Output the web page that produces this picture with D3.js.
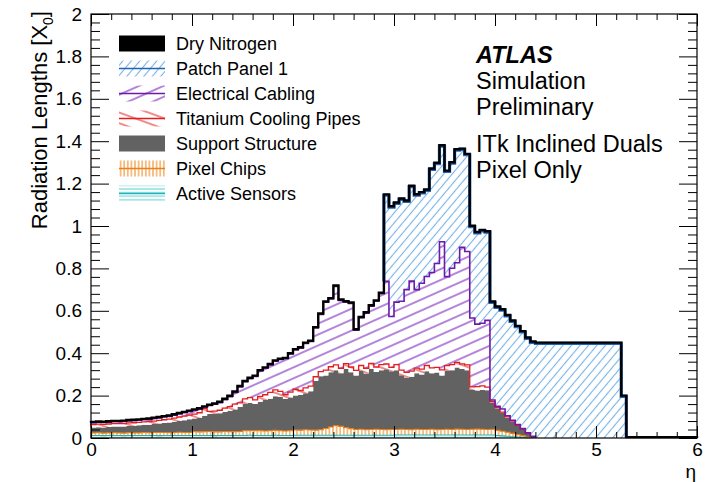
<!DOCTYPE html>
<html><head><meta charset="utf-8">
<script src="https://cdn.jsdelivr.net/npm/d3@7"></script>
<style>
body{margin:0;background:#fff}
svg{display:block}
text{font-family:"Liberation Sans",Arial,Helvetica,sans-serif;fill:#000}
</style>
</head><body>
<svg id="chart" width="708" height="482"></svg>
<script>
// ---------- data (bins of width 0.05 in eta, 0 .. 6) ----------
const binWidth = 0.05;
const etaRange = [0, 6];
const yRange = [0, 2];

const activeSensors = [
 0.012,0.012,0.011,0.012,0.012,0.012,0.011,0.012,0.012,0.012,0.012,0.012,0.012,0.011,0.012,0.012,0.012,0.012,0.012,0.012,
 0.012,0.012,0.012,0.012,0.011,0.012,0.012,0.012,0.012,0.012,0.012,0.013,0.012,0.012,0.012,0.012,0.013,0.012,0.012,0.012,
 0.013,0.013,0.013,0.013,0.013,0.013,0.013,0.013,0.013,0.013,0.013,0.013,0.013,0.013,0.013,0.013,0.013,0.013,0.013,0.013,
 0.014,0.014,0.014,0.014,0.014,0.014,0.014,0.014,0.014,0.014,0.014,0.014,0.014,0.014,0.014,0.014,0.014,0.014,0.014,0.014,
 0.012,0.010,0.008,0.006,0.004,0.003,0.001,0,0,0,0,0,0,0,0,0,0,0,0,0,
 0,0,0,0,0,0,0,0,0,0,0,0,0,0,0,0,0,0,0,0];

const pixelChips = [
 0.012,0.013,0.012,0.012,0.013,0.012,0.012,0.013,0.012,0.012,0.014,0.013,0.014,0.015,0.014,0.013,0.014,0.015,0.014,0.014,
 0.018,0.017,0.018,0.019,0.018,0.017,0.019,0.018,0.018,0.019,0.022,0.021,0.022,0.023,0.021,0.022,0.023,0.022,0.021,0.023,
 0.025,0.024,0.026,0.025,0.024,0.026,0.032,0.039,0.045,0.042,0.035,0.031,0.027,0.028,0.026,0.027,0.028,0.027,0.026,0.027,
 0.026,0.027,0.026,0.025,0.027,0.026,0.026,0.027,0.025,0.026,0.027,0.026,0.028,0.027,0.026,0.027,0.028,0.027,0.026,0.027,
 0.024,0.022,0.019,0.016,0.012,0.008,0.004,0,0,0,0,0,0,0,0,0,0,0,0,0,
 0,0,0,0,0,0,0,0,0,0,0,0,0,0,0,0,0,0,0,0];

const supportStructure = [
 0.026,0.026,0.027,0.028,0.029,0.030,0.031,0.032,0.034,0.036,0.036,0.038,0.040,0.042,0.045,0.048,0.051,0.054,0.058,0.062,
 0.062,0.067,0.075,0.082,0.085,0.088,0.092,0.098,0.105,0.115,0.126,0.131,0.126,0.136,0.146,0.151,0.161,0.161,0.151,0.156,
 0.162,0.167,0.172,0.182,0.232,0.252,0.250,0.258,0.262,0.250,0.277,0.266,0.255,0.275,0.265,0.285,0.270,0.280,0.285,0.275,
 0.280,0.255,0.245,0.250,0.265,0.260,0.275,0.265,0.270,0.255,0.275,0.280,0.290,0.285,0.280,0.185,0.182,0.185,0.185,0.125,
 0.104,0.086,0.069,0.055,0.042,0.028,0.015,0.005,0,0,0,0,0,0,0,0,0,0,0,0,
 0,0,0,0,0,0,0,0,0,0,0,0,0,0,0,0,0,0,0,0];

const titaniumPipes = [
 0.013,0.014,0.014,0.014,0.014,0.014,0.014,0.014,0.014,0.014,0.014,0.014,0.014,0.015,0.015,0.016,0.017,0.018,0.019,0.020,
 0.021,0.023,0.035,0.013,0.013,0.014,0.018,0.020,0.025,0.020,0.025,0.025,0.020,0.025,0.025,0.030,0.030,0.025,0.020,0.025,
 0.030,0.020,0.025,0.025,0.020,0.022,0.025,0.026,0.025,0.024,0.026,0.025,0.024,0.026,0.025,0.027,0.024,0.026,0.025,0.018,
 0.026,0.024,0.025,0.026,0.024,0.025,0.027,0.025,0.024,0.026,0.025,0.026,0.025,0.024,0.025,0.015,0.018,0.020,0.015,0.005,
 0.005,0.004,0.004,0.003,0.002,0.002,0.002,0.001,0,0,0,0,0,0,0,0,0,0,0,0,
 0,0,0,0,0,0,0,0,0,0,0,0,0,0,0,0,0,0,0,0];

const electricalCabling = [
 0.009,0.009,0.009,0.009,0.009,0.009,0.010,0.010,0.010,0.010,0.010,0.011,0.012,0.012,0.013,0.013,0.014,0.015,0.016,0.017,
 0.018,0.017,0.005,0.027,0.032,0.036,0.040,0.047,0.055,0.075,0.080,0.090,0.110,0.120,0.125,0.130,0.135,0.150,0.170,0.180,
 0.185,0.200,0.210,0.210,0.230,0.270,0.320,0.320,0.370,0.320,0.290,0.300,0.190,0.225,0.260,0.270,0.310,0.335,0.390,0.240,
 0.295,0.325,0.390,0.425,0.370,0.405,0.420,0.450,0.490,0.605,0.420,0.455,0.470,0.550,0.535,0.325,0.295,0.295,0.315,0.008,
 0.005,0.015,0.005,0.004,0.004,0.003,0.002,0.002,0,0,0,0,0,0,0,0,0,0,0,0,
 0,0,0,0,0,0,0,0,0,0,0,0,0,0,0,0,0,0,0,0];

const patchPanel1 = [
 0,0,0,0,0,0,0,0,0,0,0,0,0,0,0,0,0,0,0,0,
 0,0,0,0,0,0,0,0,0,0,0,0,0,0,0,0,0,0,0,0,
 0,0,0,0,0,0,0,0,0,0,0,0,0,0,0,0,0,0,0.406,0.516,
 0.466,0.481,0.416,0.446,0.446,0.426,0.406,0.486,0.471,0.451,0.496,0.496,0.531,0.461,0.456,0.431,0.431,0.436,0.416,0.461,
 0.466,0.466,0.471,0.466,0.461,0.456,0.446,0.443,0.446,0.446,0.446,0.446,0.446,0.446,0.446,0.446,0.446,0.446,0.446,0.446,
 0.446,0.446,0.446,0.446,0.446,0.196,0,0,0,0,0,0,0,0,0,0,0,0,0,0];

const dryNitrogen = [
 0.004,0.004,0.004,0.004,0.004,0.004,0.004,0.004,0.004,0.004,0.004,0.004,0.004,0.004,0.004,0.004,0.004,0.004,0.004,0.004,
 0.004,0.004,0.004,0.004,0.004,0.004,0.004,0.004,0.004,0.004,0.004,0.004,0.004,0.004,0.004,0.004,0.004,0.004,0.004,0.004,
 0.004,0.004,0.004,0.004,0.004,0.004,0.004,0.004,0.004,0.004,0.004,0.004,0.004,0.004,0.004,0.004,0.004,0.004,0.004,0.004,
 0.004,0.004,0.004,0.004,0.004,0.004,0.004,0.004,0.004,0.004,0.004,0.004,0.004,0.004,0.004,0.004,0.004,0.004,0.004,0.004,
 0.004,0.004,0.004,0.004,0.004,0.004,0.004,0.004,0.004,0.004,0.004,0.004,0.004,0.004,0.004,0.004,0.004,0.004,0.004,0.004,
 0.004,0.004,0.004,0.004,0.004,0.004,0.004,0.004,0.004,0.004,0.004,0.004,0.004,0.004,0.004,0.004,0.004,0.004,0.004,0.004];

const layerKeys   = ["sensors","chips","support","pipes","cabling","pp1","n2"];
const layerValues = [activeSensors, pixelChips, supportStructure, titaniumPipes, electricalCabling, patchPanel1, dryNitrogen];
const layerNames  = ["Active Sensors","Pixel Chips","Support Structure","Titanium Cooling Pipes","Electrical Cabling","Patch Panel 1","Dry Nitrogen"];
const legendOrder = ["n2","pp1","cabling","pipes","support","chips","sensors"];

const xTickValues = [0,1,2,3,4,5,6];
const xTickLabels = ["0","1","2","3","4","5","6"];
const yTickValues = [0,0.2,0.4,0.6,0.8,1,1.2,1.4,1.6,1.8,2];
const yTickLabels = ["0","0.2","0.4","0.6","0.8","1","1.2","1.4","1.6","1.8","2"];

const infoLines = ["Simulation","Preliminary"];
const detectorLines = ["ITk Inclined Duals","Pixel Only"];

// ---------- styles ----------
const style = {
  sensors: {fill:"url(#patSensors)", line:"#22b4b4", lw:1.1},
  chips:   {fill:"url(#patChips)",   line:"#ee7f15", lw:1.1},
  support: {fill:"#626262",          line:null,      lw:0},
  pipes:   {fill:"url(#patPipes)",   line:"#e41c1c", lw:1.3},
  cabling: {fill:"url(#patCabling)", line:"#6e1aa8", lw:1.6},
  pp1:     {fill:"url(#patPP1)",     line:"#1f64b8", lw:3.2},
  n2:      {fill:"#000",             line:"#000",    lw:2.4}
};

// ---------- layout ----------
const svg = d3.select("#chart");
const L = 91, R = 697, T = 14, B = 438;
const x = d3.scaleLinear().domain(etaRange).range([L, R]);
const y = d3.scaleLinear().domain(yRange).range([B, T]);

// patterns
const defs = svg.append("defs");
function linePattern(id, w, h, rot, color, sw, vertical) {
  const p = defs.append("pattern").attr("id", id).attr("patternUnits","userSpaceOnUse")
    .attr("width", w).attr("height", h).attr("patternTransform", `rotate(${rot})`);
  p.append("rect").attr("width", w).attr("height", h).attr("fill", "#fff");
  if (vertical) p.append("line").attr("x1", w/2).attr("x2", w/2).attr("y1", 0).attr("y2", h)
      .attr("stroke", color).attr("stroke-width", sw);
  else p.append("line").attr("x1", 0).attr("x2", w).attr("y1", h/2).attr("y2", h/2)
      .attr("stroke", color).attr("stroke-width", sw);
}
linePattern("patPP1", 6.5, 10, 40, "#78b2e6", 1.1, true);
linePattern("patCabling", 20, 10, -24, "#8232c4", 1.2, false);
linePattern("patPipes", 20, 10, 20, "#e23030", 1.1, false);
linePattern("patChips", 3.6, 10, 0, "#f2a04a", 1.3, true);
linePattern("patSensors", 10, 3.6, 0, "#6cd6d6", 1.1, false);

// data rows and stack
const nBins = activeSensors.length;
const rows = d3.range(nBins).map(i => {
  const r = {i};
  layerKeys.forEach((k, j) => r[k] = layerValues[j][i]);
  return r;
});
const series = d3.stack().keys(layerKeys)(rows);

const plot = svg.append("g");
const area = d3.area().x(d => x(d.x)).y0(d => y(d.lo)).y1(d => y(d.hi));

series.forEach(s => {
  const pts = [];
  s.forEach((d, i) => {
    pts.push({x: i*binWidth, lo: d[0], hi: d[1]});
    pts.push({x: (i+1)*binWidth, lo: d[0], hi: d[1]});
  });
  plot.append("path").attr("d", area(pts)).attr("fill", style[s.key].fill).attr("stroke", "none");
});

// outlines (drawn only where a layer is present)
function outline(s, comp) {
  const p = d3.path();
  let run = false;
  for (let i = 0; i < s.length; i++) {
    const xa = x(i*binWidth), xb = x((i+1)*binWidth);
    if (comp[i] > 0) {
      if (!run) { p.moveTo(xa, y(s[i][0])); p.lineTo(xa, y(s[i][1])); run = true; }
      else p.lineTo(xa, y(s[i][1]));
      p.lineTo(xb, y(s[i][1]));
    } else if (run) {
      p.lineTo(xa, y(s[i-1][0]));
      run = false;
    }
  }
  if (run) p.lineTo(x(s.length*binWidth), y(s[s.length-1][0]));
  return p.toString();
}
series.forEach((s, j) => {
  const st = style[s.key];
  if (!st.line) return;
  plot.append("path").attr("d", outline(s, layerValues[j]))
    .attr("fill", "none").attr("stroke", st.line).attr("stroke-width", st.lw)
    .attr("stroke-linejoin", "miter");
});

// ---------- axes ----------
const xMinor = d3.range(0, 6.0001, 0.2).filter(v => Math.abs(v - Math.round(v)) > 1e-6);
const yMinor = d3.range(0, 2.0001, 0.04).filter(v => Math.abs(v*5 - Math.round(v*5)) > 1e-6);

function styleAxis(g) {
  g.select(".domain").remove();
  g.selectAll("line").attr("stroke", "#000").attr("stroke-width", 1);
  g.selectAll("text").style("font-size", "19px").attr("fill", "#000");
}
svg.append("g").attr("transform", `translate(0,${B})`)
  .call(d3.axisBottom(x).tickValues(xTickValues).tickSize(-12).tickPadding(5).tickFormat((d,i) => xTickLabels[i]))
  .call(styleAxis);
svg.append("g").attr("transform", `translate(0,${B})`)
  .call(d3.axisBottom(x).tickValues(xMinor).tickSize(-6).tickFormat(""))
  .call(styleAxis);
svg.append("g").attr("transform", `translate(0,${T})`)
  .call(d3.axisTop(x).tickValues(xTickValues).tickSize(-12).tickFormat(""))
  .call(styleAxis);
svg.append("g").attr("transform", `translate(0,${T})`)
  .call(d3.axisTop(x).tickValues(xMinor).tickSize(-6).tickFormat(""))
  .call(styleAxis);
svg.append("g").attr("transform", `translate(${L},0)`)
  .call(d3.axisLeft(y).tickValues(yTickValues).tickSize(-18).tickPadding(9).tickFormat((d,i) => yTickLabels[i]))
  .call(styleAxis);
svg.append("g").attr("transform", `translate(${L},0)`)
  .call(d3.axisLeft(y).tickValues(yMinor).tickSize(-9).tickFormat(""))
  .call(styleAxis);
svg.append("g").attr("transform", `translate(${R},0)`)
  .call(d3.axisRight(y).tickValues(yTickValues).tickSize(-18).tickFormat(""))
  .call(styleAxis);
svg.append("g").attr("transform", `translate(${R},0)`)
  .call(d3.axisRight(y).tickValues(yMinor).tickSize(-9).tickFormat(""))
  .call(styleAxis);

svg.append("rect").attr("x", L).attr("y", T).attr("width", R-L).attr("height", B-T)
  .attr("fill", "none").attr("stroke", "#000").attr("stroke-width", 1.2);

// axis titles
const yt = svg.append("text").attr("transform", "translate(47,11) rotate(-90)")
  .attr("text-anchor", "end").style("font-size", "22px");
yt.append("tspan").text("Radiation Lengths [X");
yt.append("tspan").attr("dy", 6).style("font-size", "14px").text("0");
yt.append("tspan").attr("dy", -6).text("]");
svg.append("text").attr("x", R - 1).attr("y", 478).attr("text-anchor", "end")
  .style("font-size", "19px").text("η");

// ---------- legend ----------
const lg = svg.append("g");
legendOrder.forEach((k, i) => {
  const cy = 43.5 + i*25;
  const st = style[k];
  lg.append("rect").attr("x", 119).attr("y", cy - 8).attr("width", 46).attr("height", 16)
    .attr("fill", st.fill);
  if (k !== "n2" && k !== "support" && st.line) {
    lg.append("line").attr("x1", 119).attr("x2", 165).attr("y1", cy).attr("y2", cy)
      .attr("stroke", st.line).attr("stroke-width", 1.4);
  }
  lg.append("text").attr("x", 176).attr("y", cy + 6.5).style("font-size", "18px")
    .text(layerNames[layerKeys.indexOf(k)]);
});

// ---------- labels ----------
svg.append("text").attr("x", 476).attr("y", 63).style("font-size", "23.5px")
  .style("font-weight", "bold").style("font-style", "italic").text("ATLAS");
infoLines.forEach((t, i) => svg.append("text").attr("x", 476).attr("y", 88.5 + i*26)
  .style("font-size", "23.5px").text(t));
detectorLines.forEach((t, i) => svg.append("text").attr("x", 476).attr("y", 151.5 + i*26)
  .style("font-size", "23.5px").text(t));
</script>
</body></html>
